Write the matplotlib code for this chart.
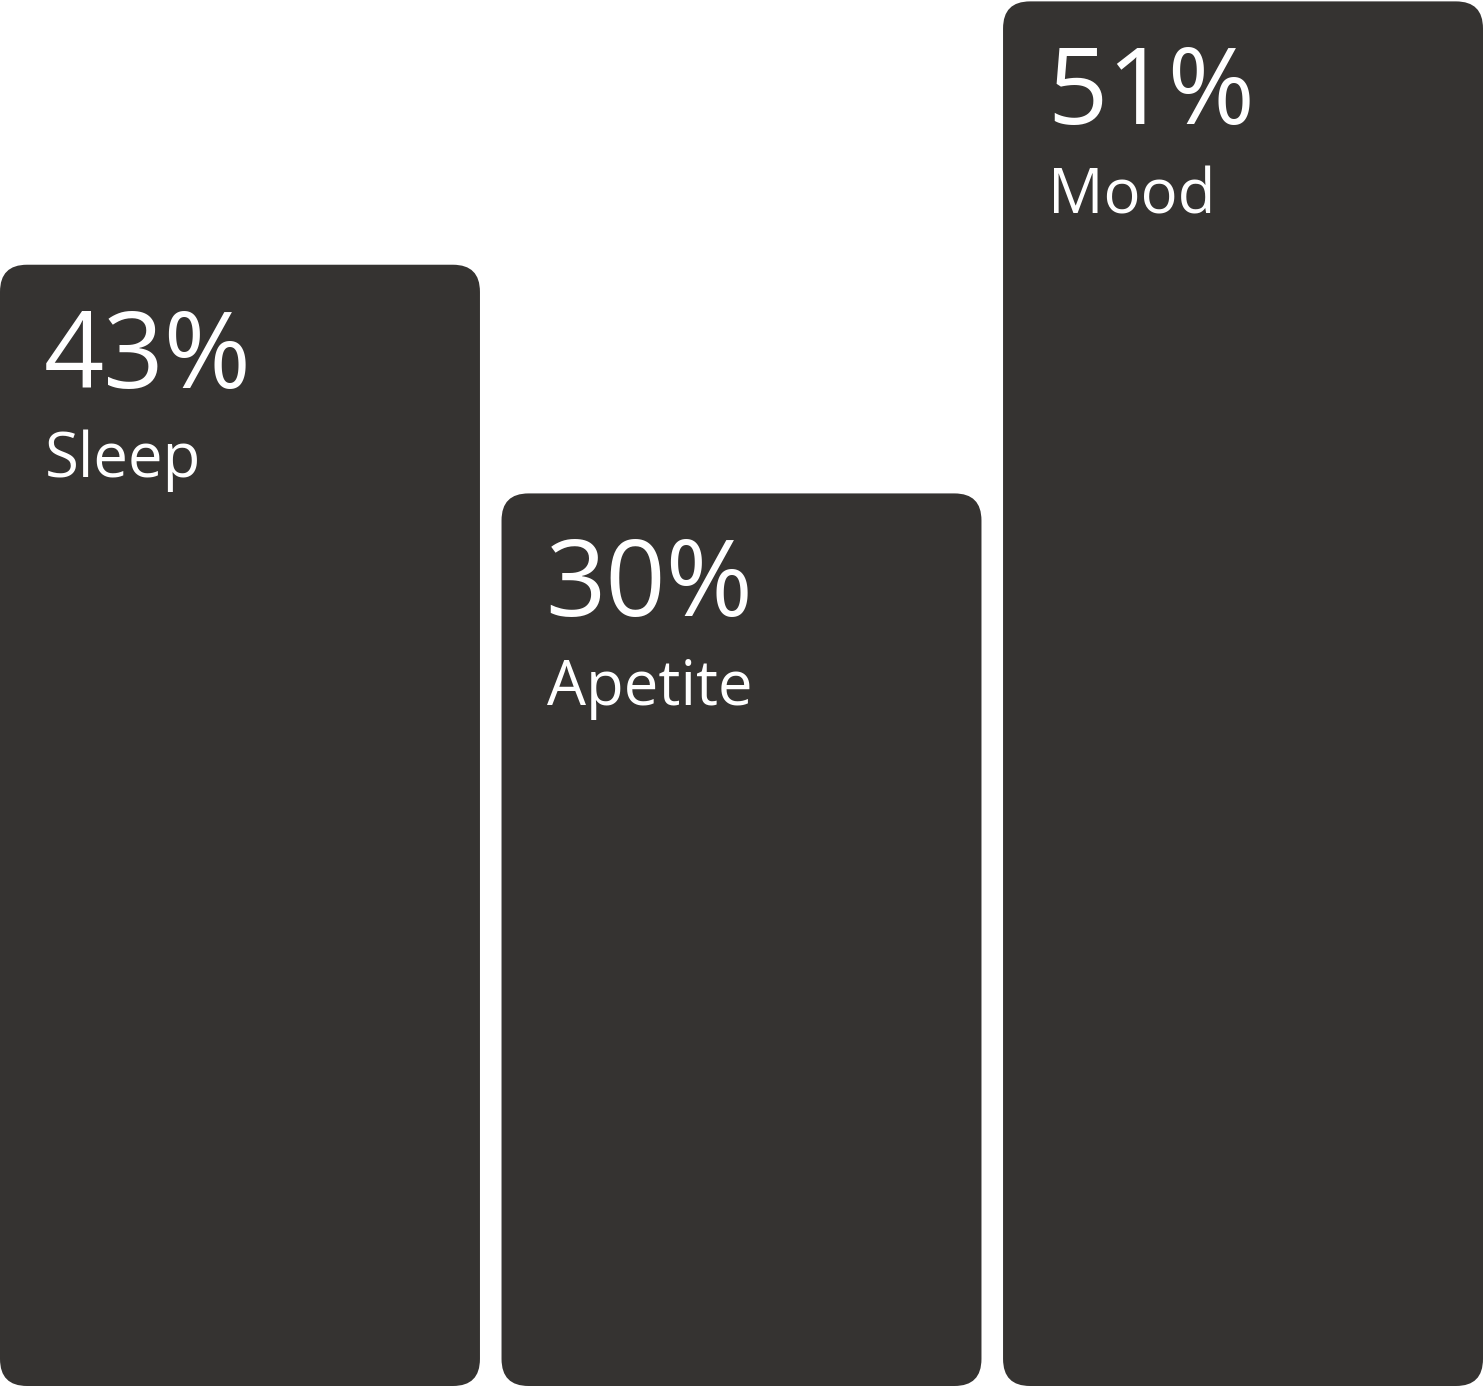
import matplotlib.pyplot as plt
from matplotlib.patches import FancyBboxPatch

# values shown on the bars, and the bar heights as drawn (share of the tallest bar)
categories = ['Sleep', 'Apetite', 'Mood']
values = [43, 30, 51]
bar_heights = [80.9, 64.4, 99.9]

bar_color = '#353331'
bar_width = 0.957
radius_px = 27

plt.rcParams['font.family'] = ['Open Sans', 'DejaVu Sans']

fig = plt.figure(figsize=(14.83, 13.86), dpi=100)
ax = fig.add_axes([0, 0, 1, 1])
ax.set_xlim(-0.4785, len(categories) - 0.5215)
ax.set_ylim(0, 100)
ax.axis('off')

# data units per pixel, so the corners come out round
x_per_px = (ax.get_xlim()[1] - ax.get_xlim()[0]) / (fig.get_figwidth() * fig.dpi)
y_per_px = (ax.get_ylim()[1] - ax.get_ylim()[0]) / (fig.get_figheight() * fig.dpi)

for i, (cat, val, h) in enumerate(zip(categories, values, bar_heights)):
    left = i - bar_width / 2
    box = FancyBboxPatch((left, 0), bar_width, h,
                         boxstyle=f'round,pad=0,rounding_size={radius_px * x_per_px}',
                         mutation_aspect=y_per_px / x_per_px,
                         facecolor=bar_color, edgecolor='none')
    ax.add_patch(box)
    # big percentage
    ax.annotate(f'{val}%', xy=(left, h), xytext=(44 * 0.72, -123 * 0.72),
                textcoords='offset points', ha='left', va='baseline',
                color='white', fontsize=76)
    # category name
    ax.annotate(cat, xy=(left, h), xytext=(45 * 0.72, -212 * 0.72),
                textcoords='offset points', ha='left', va='baseline',
                color='white', fontsize=44.5)

fig.savefig('out.png', dpi=100)
